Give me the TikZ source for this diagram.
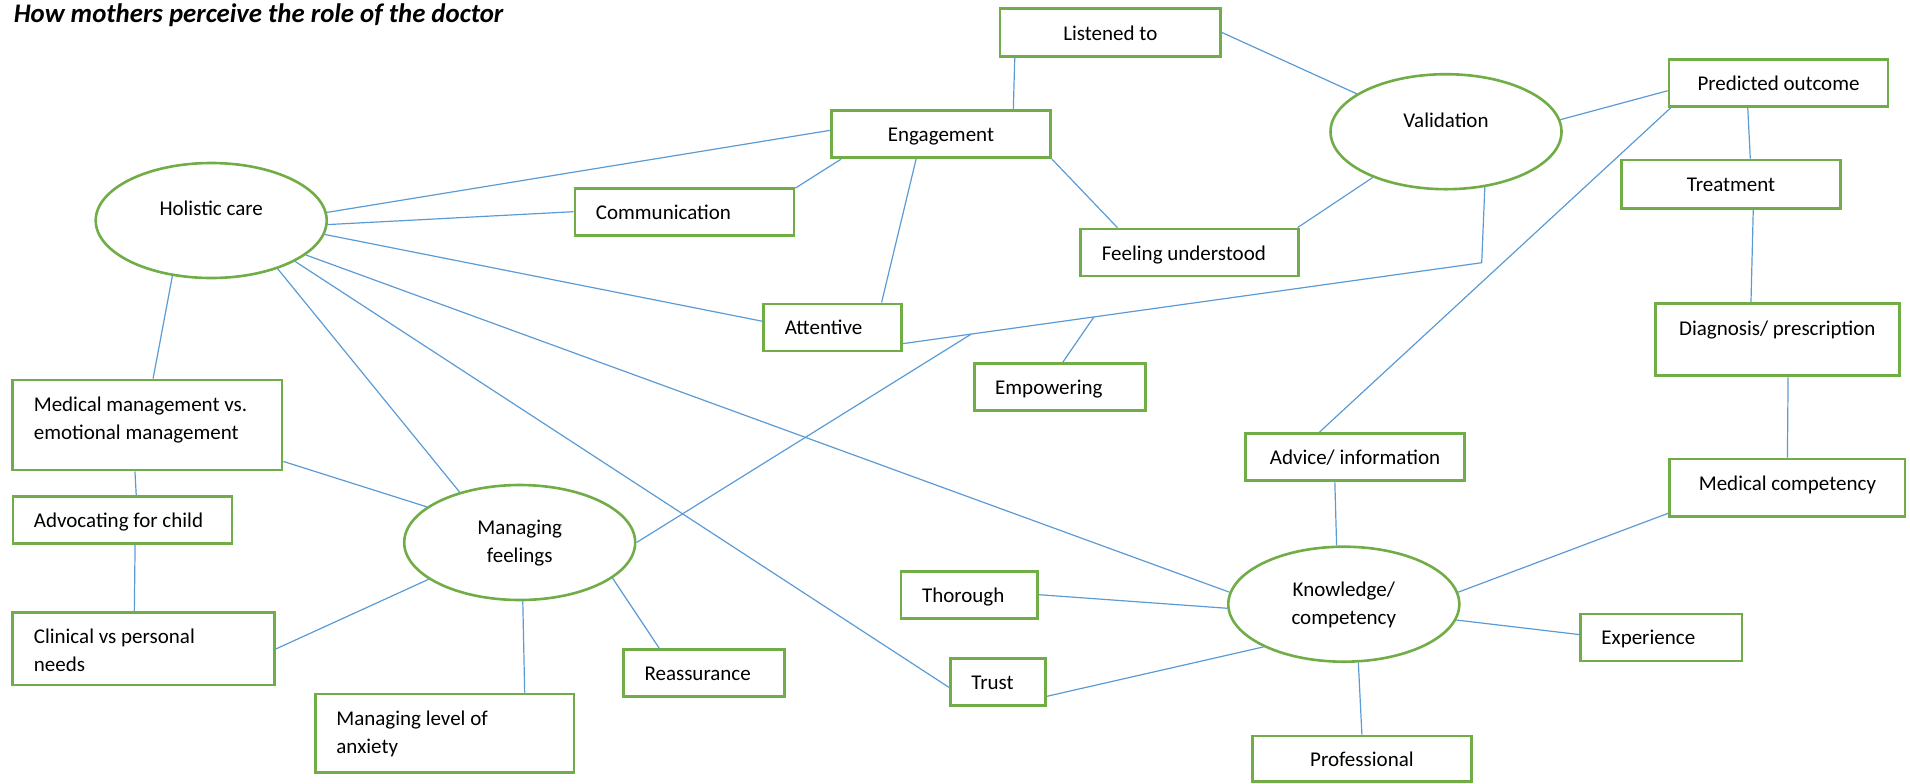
\documentclass[tikz,border=0pt]{standalone}
\usepackage{fontspec}
\setmainfont{Carlito}
\usetikzlibrary{shapes.geometric,calc}
\definecolor{boxgreen}{HTML}{70AD47}
\definecolor{linkblue}{HTML}{5B9BD5}

\begin{document}
\begin{tikzpicture}[x=0.5pt, y=-0.5pt, font=\fontsize{10.5}{13.8}\selectfont,
	box/.style={draw=boxgreen, line width=1.4pt, rectangle, inner sep=0pt, minimum width=#1, text width=#1-21pt, minimum height=23.5pt, text height=9.5pt, text depth=2pt, align=flush left},
	box/.default=109.5pt,
	cbox/.style={box=#1, align=flush center},
	cbox/.default=109.5pt,
	oval/.style={draw=boxgreen, line width=1.3pt, ellipse, inner sep=0pt, minimum width=115.5pt, minimum height=57.5pt, text width=60pt, align=flush center, text height=9.5pt, text depth=#1},
	oval/.default=17.1pt,
	link/.style={draw=linkblue, line width=0.6pt}]
	\useasboundingbox (0,0) rectangle (1910,783);
	\node[anchor=base west, inner sep=0pt, font=\fontsize{13.4}{16}\selectfont\bfseries\itshape] (title) at (13.4,22) {How mothers perceive the role of the doctor};

	\node[oval=14.3pt] (hol) at (211.2,220.5) {Holistic care};
	\node[oval=14.2pt] (val) at (1446,131.7) {Validation};
	\node[oval] (mf) at (519.7,542.5) {Managing\\feelings};
	\node[oval] (kc) at (1343.8,604.2) {Knowledge/\\competency};

	\node[cbox=110.25pt, minimum height=24.2pt] (lis) at (1110.3,32.5) {Listened to};
	\node[cbox] (pred) at (1778.5,83) {Predicted outcome};
	\node[cbox] (eng) at (941,134.2) {Engagement};
	\node[box] (comm) at (684.4,211.7) {Communication};
	\node[cbox, minimum height=24.2pt] (treat) at (1731,184.2) {Treatment};
	\node[box=108.85pt] (feel) at (1189.7,252.5) {Feeling understood};
	\node[box=68.85pt] (att) at (832.7,327.4) {Attentive};
	\node[box=85.6pt] (emp) at (1059.8,387) {Empowering};
	\node[cbox=121.95pt, minimum height=36.2pt, text depth=13.3pt] (diag) at (1777.3,339.5) {Diagnosis/ prescription};
	\node[box=134.6pt, minimum height=45pt, text depth=22.9pt] (medm) at (147.4,425) {Medical management vs.\\emotional management};
	\node[cbox] (adv) at (1355,457) {Advice/ information};
	\node[cbox=117.65pt, minimum height=28.85pt, text depth=7.3pt] (medc) at (1787.4,487.9) {Medical competency};
	\node[box] (advo) at (122.4,519.7) {Advocating for child};
	\node[box=68.35pt] (thor) at (969.4,594.7) {Thorough};
	\node[box=80.8pt] (exp) at (1661.2,637.4) {Experience};
	\node[box=130.85pt, minimum height=36.15pt, text depth=14.6pt] (clin) at (143.7,648.9) {Clinical vs personal\\needs};
	\node[box=80.6pt] (reas) at (704.1,673) {Reassurance};
	\node[box=47.65pt] (trust) at (998,682.2) {Trust};
	\node[box=129.35pt, minimum height=39.35pt, text depth=17.1pt] (anx) at (444.7,733.4) {Managing level of\\anxiety};
	\node[cbox, minimum height=22.85pt] (prof) at (1361.9,758.9) {Professional};

	\coordinate (vbend) at (1481.7,262.7);
	\coordinate (jemp) at ($(vbend)!0.67!(att.-13)$);
	\coordinate (jmf) at ($(vbend)!0.882!(att.-13)$);

	\draw[link] (lis.195) to (eng.19);
	\draw[link] (lis.east) to (val.157);
	\draw[link] (val.6) to (pred.184);
	\draw[link] (val.212) to (feel.13);
	\draw[link] (eng.south east) to (feel.161);
	\draw[link] (eng.194) to (comm.12);
	\draw[link] (eng.225) to (att.27);
	\draw[link] (hol.4) to (eng.178);
	\draw[link] (hol.-2) to (comm.west);
	\draw[link] (hol.-7) to (att.175);
	\draw[link] (hol.-20) to (kc.174);
	\draw[link] (hol.-26) to (trust.186);
	\draw[link] (hol.-36) to (mf.140);
	\draw[link] (hol.235) to (medm.83);
	\draw[link] (medm.255) to (advo.61);
	\draw[link] (advo.-63) to (clin.104);
	\draw[link] (medm.-15) to (mf.159);
	\draw[link] (clin.east) to (mf.202);
	\draw[link] (mf.273) to (anx.27);
	\draw[link] (mf.-21) to (reas.151);
	\draw[link] (val.-55) to (vbend) to (att.-13);
	\draw[link] (emp.83) to (jemp);
	\draw[link] (mf.east) to (jmf);
	\draw[link] (pred.219) to (treat.53);
	\draw[link] (pred.193) to (adv.145);
	\draw[link] (treat.-49) to (diag.125);
	\draw[link] (diag.-74) to (medc.north);
	\draw[link] (medc.192) to (kc.6);
	\draw[link] (adv.231) to (kc.97);
	\draw[link] (kc.-8) to (exp.178);
	\draw[link] (kc.-76) to (prof.north);
	\draw[link] (thor.east) to (kc.182);
	\draw[link] (trust.-16) to (kc.208);
\end{tikzpicture}
\end{document}
